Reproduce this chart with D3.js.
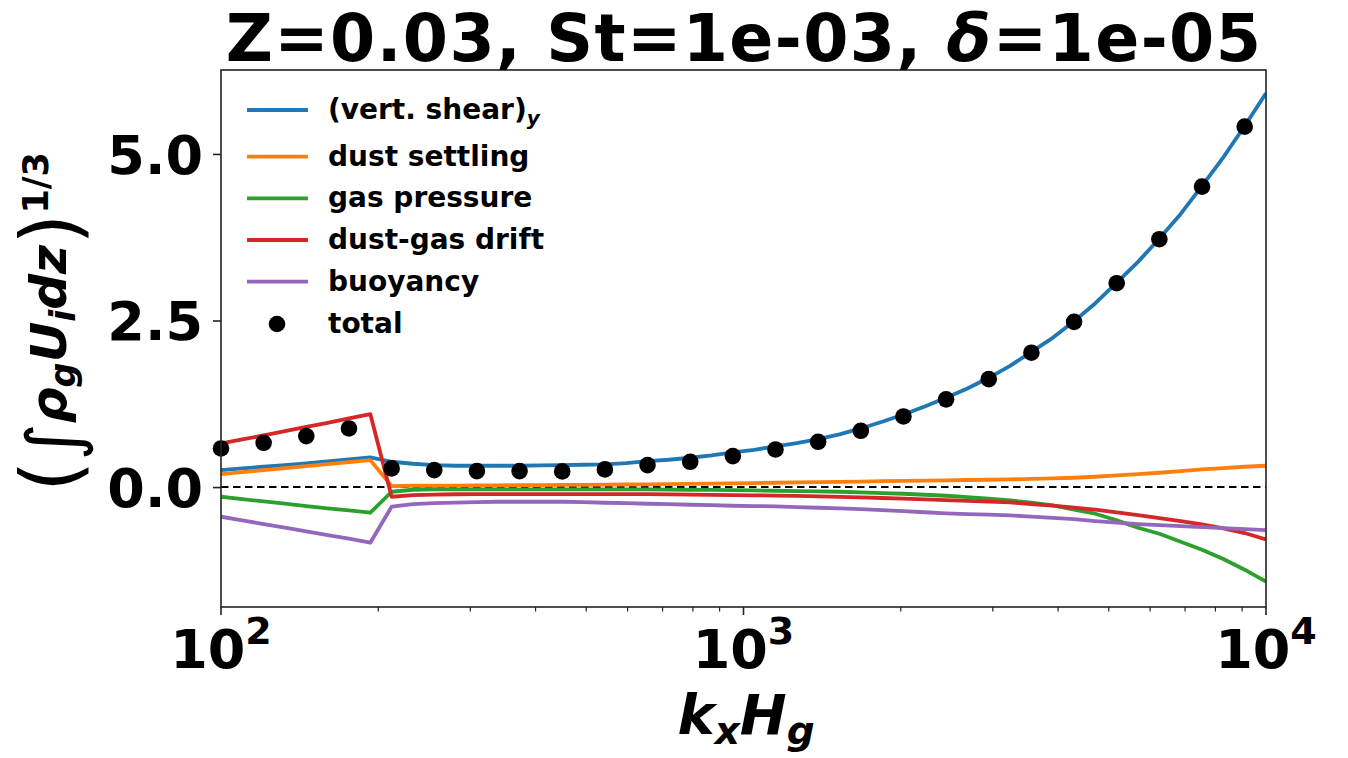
<!DOCTYPE html>
<html>
<head>
<meta charset="utf-8">
<script src="https://cdn.jsdelivr.net/npm/d3@7"></script>
<style>
  html, body { margin: 0; padding: 0; background: #fff; }
  svg { display: block; font-family: "DejaVu Sans", sans-serif; }
</style>
</head>
<body>
<svg id="chart" width="1348" height="758"></svg>
<script>
// x grid: k_x H_g (50 log-spaced samples, 1e2 .. 1e4)
const kx = [100, 109.85, 120.67, 132.57, 145.63, 159.98, 175.75, 193.07, 212.10, 232.99,
  255.95, 281.17, 308.88, 339.32, 372.76, 409.49, 449.84, 494.17, 542.87, 596.36,
  655.13, 719.69, 790.60, 868.51, 954.11, 1048.11, 1151.40, 1264.86, 1389.50, 1526.42,
  1676.83, 1842.07, 2023.59, 2222.99, 2442.05, 2682.70, 2947.05, 3237.46, 3556.48, 3906.94,
  4291.93, 4714.87, 5179.47, 5689.87, 6250.55, 6866.49, 7543.12, 8286.43, 9102.98, 10000];

const vertShear = [0.255, 0.28, 0.305, 0.33, 0.355, 0.385, 0.415, 0.445, 0.38, 0.35,
  0.33, 0.32, 0.32, 0.32, 0.32, 0.325, 0.33, 0.335, 0.34, 0.36,
  0.39, 0.41, 0.44, 0.475, 0.52, 0.56, 0.61, 0.66, 0.72, 0.79,
  0.88, 0.98, 1.09, 1.21, 1.34, 1.48, 1.64, 1.82, 2.03, 2.24,
  2.49, 2.76, 3.07, 3.38, 3.73, 4.10, 4.52, 4.95, 5.42, 5.91];

const dustSettling = [0.195, 0.225, 0.255, 0.285, 0.315, 0.345, 0.375, 0.405, 0.015, 0.02,
  0.02, 0.022, 0.024, 0.026, 0.028, 0.03, 0.032, 0.034, 0.036, 0.039,
  0.042, 0.045, 0.048, 0.052, 0.056, 0.06, 0.065, 0.07, 0.074, 0.079,
  0.083, 0.088, 0.092, 0.097, 0.101, 0.106, 0.11, 0.115, 0.122, 0.13,
  0.14, 0.155, 0.175, 0.195, 0.215, 0.24, 0.265, 0.285, 0.305, 0.32];

const gasPressure = [-0.145, -0.18, -0.215, -0.25, -0.285, -0.32, -0.35, -0.385, -0.07, -0.04,
  -0.035, -0.035, -0.035, -0.035, -0.035, -0.035, -0.035, -0.035, -0.035, -0.035,
  -0.035, -0.037, -0.04, -0.043, -0.047, -0.051, -0.055, -0.06, -0.065, -0.07,
  -0.08, -0.09, -0.10, -0.115, -0.13, -0.15, -0.175, -0.20, -0.235, -0.275,
  -0.34, -0.40, -0.50, -0.61, -0.70, -0.82, -0.94, -1.08, -1.24, -1.42];

const dustGasDrift = [0.655, 0.715, 0.775, 0.84, 0.905, 0.965, 1.03, 1.096, -0.145, -0.12,
  -0.112, -0.108, -0.105, -0.105, -0.105, -0.105, -0.105, -0.105, -0.105, -0.105,
  -0.107, -0.11, -0.113, -0.116, -0.12, -0.124, -0.128, -0.133, -0.14, -0.147,
  -0.155, -0.164, -0.174, -0.185, -0.196, -0.207, -0.218, -0.23, -0.255, -0.28,
  -0.31, -0.34, -0.38, -0.42, -0.465, -0.51, -0.56, -0.62, -0.69, -0.785];

const buoyancy = [-0.445, -0.5, -0.555, -0.61, -0.665, -0.72, -0.775, -0.835, -0.295, -0.255,
  -0.24, -0.232, -0.225, -0.22, -0.22, -0.22, -0.22, -0.225, -0.235, -0.242,
  -0.25, -0.257, -0.265, -0.272, -0.28, -0.285, -0.29, -0.30, -0.31, -0.32,
  -0.33, -0.345, -0.36, -0.378, -0.395, -0.405, -0.415, -0.425, -0.445, -0.462,
  -0.48, -0.51, -0.535, -0.555, -0.57, -0.585, -0.60, -0.615, -0.63, -0.645];

// total, shown at every second sample
const total = [0.58, 0.665, 0.765, 0.88, 0.28, 0.255, 0.24, 0.24, 0.235, 0.265,
  0.33, 0.38, 0.465, 0.565, 0.68, 0.845, 1.06, 1.317, 1.62, 2.017,
  2.48, 3.06, 3.72, 4.51, 5.41];

const seriesNames = ["(vert. shear)", "dust settling", "gas pressure", "dust-gas drift", "buoyancy", "total"];
const seriesColors = ["#1f77b4", "#ff7f0e", "#2ca02c", "#d62728", "#9467bd", "#000000"];
const yTicks = [0, 2.5, 5.0];
const yTickLabels = ["0.0", "2.5", "5.0"];
const xMajorTicks = [100, 1000, 10000];
const xTickExps = ["2", "3", "4"];
const xMinorTicks = [200, 300, 400, 500, 600, 700, 800, 900, 2000, 3000, 4000, 5000, 6000, 7000, 8000, 9000];

const svg = d3.select("#chart");
const L = 221, R = 1266, T = 70, B = 607;

const x = d3.scaleLog().domain([100, 10000]).range([L, R]);
const y = d3.scaleLinear().domain([-1.80, 6.26]).range([B, T]);

svg.append("defs").append("clipPath").attr("id", "clip")
  .append("rect").attr("x", L).attr("y", T).attr("width", R - L).attr("height", B - T);

const plot = svg.append("g").attr("clip-path", "url(#clip)");

// zero dashed line
plot.append("line")
  .attr("x1", L).attr("x2", R).attr("y1", y(0)).attr("y2", y(0))
  .attr("stroke", "#000").attr("stroke-width", 2).attr("stroke-dasharray", "7.5,4.5");

const lineGen = d3.line().x((d, i) => x(kx[i])).y(d => y(d));
const lineSeries = [vertShear, dustSettling, gasPressure, dustGasDrift, buoyancy];
lineSeries.forEach((s, k) => {
  plot.append("path").datum(s)
    .attr("d", lineGen)
    .attr("fill", "none")
    .attr("stroke", seriesColors[k])
    .attr("stroke-width", 3.8)
    .attr("stroke-linejoin", "round");
});

const kxEven = kx.filter((d, i) => i % 2 === 0);
svg.append("g").selectAll("circle").data(total).join("circle")
  .attr("cx", (d, i) => x(kxEven[i]))
  .attr("cy", d => y(d))
  .attr("r", 8.3)
  .attr("fill", "#000");

// frame
svg.append("rect").attr("x", L).attr("y", T).attr("width", R - L).attr("height", B - T)
  .attr("fill", "none").attr("stroke", "#222").attr("stroke-width", 1.6);

// y axis
const yAxis = d3.axisLeft(y).tickValues(yTicks).tickSize(8).tickFormat((d, i) => yTickLabels[i]).tickPadding(10);
const gy = svg.append("g").attr("transform", `translate(${L},0)`).call(yAxis);
gy.select(".domain").remove();
gy.selectAll(".tick line").attr("stroke", "#222").attr("stroke-width", 1.6);
gy.selectAll(".tick text").attr("font-size", 54).attr("font-weight", "bold")
  .attr("font-family", "DejaVu Sans").attr("fill", "#000").attr("dy", "0.36em");

// x axis ticks
const gx = svg.append("g").attr("transform", `translate(0,${B})`);
gx.selectAll("line.minor").data(xMinorTicks).join("line").attr("class", "minor")
  .attr("x1", d => x(d)).attr("x2", d => x(d)).attr("y1", 0).attr("y2", 4.5)
  .attr("stroke", "#222").attr("stroke-width", 1.2);
gx.selectAll("line.major").data(xMajorTicks).join("line").attr("class", "major")
  .attr("x1", d => x(d)).attr("x2", d => x(d)).attr("y1", 0).attr("y2", 8)
  .attr("stroke", "#222").attr("stroke-width", 1.6);
const xl = gx.selectAll("text.xl").data(xMajorTicks).join("text").attr("class", "xl")
  .attr("x", d => x(d)).attr("y", 61)
  .attr("text-anchor", "middle")
  .attr("font-weight", "bold").attr("font-family", "DejaVu Sans");
xl.append("tspan").attr("font-size", 54).text("10");
xl.append("tspan").attr("font-size", 38).attr("dy", -24).text((d, i) => xTickExps[i]);

// title
const title = svg.append("text").attr("x", 744).attr("y", 61).attr("text-anchor", "middle")
  .attr("font-size", 65).attr("letter-spacing", 1.4).attr("font-weight", "bold").attr("font-family", "DejaVu Sans");
title.append("tspan").text("Z=0.03, St=1e-03, ");
title.append("tspan").attr("font-style", "italic").text("δ");
title.append("tspan").text("=1e-05");

// x label
const xlab = svg.append("text").attr("x", 746).attr("y", 734).attr("text-anchor", "middle")
  .attr("font-weight", "bold").attr("font-style", "italic").attr("font-family", "DejaVu Sans");
xlab.append("tspan").attr("font-size", 56).text("k");
xlab.append("tspan").attr("font-size", 39).attr("dy", 10).text("x");
xlab.append("tspan").attr("font-size", 56).attr("dy", -10).text("H");
xlab.append("tspan").attr("font-size", 39).attr("dy", 10).text("g");

// y label
const ylab = svg.append("text").attr("transform", "translate(66,322) rotate(-90)")
  .attr("text-anchor", "middle").attr("font-family", "DejaVu Sans").attr("font-weight", "bold");
ylab.append("tspan").attr("font-size", 80).attr("font-weight", "normal").attr("dy", 12).text("(");
ylab.append("tspan").attr("font-size", 72).attr("font-weight", "normal").attr("dy", 0).text("∫");
ylab.append("tspan").attr("font-size", 50).attr("font-style", "italic").attr("dy", -12).text("ρ");
ylab.append("tspan").attr("font-size", 35).attr("font-style", "italic").attr("dy", 9).text("g");
ylab.append("tspan").attr("font-size", 50).attr("font-style", "italic").attr("dy", -9).text("U");
ylab.append("tspan").attr("font-size", 35).attr("font-style", "italic").attr("dy", 9).text("i");
ylab.append("tspan").attr("font-size", 50).attr("font-style", "italic").attr("dy", -9).text("dz");
ylab.append("tspan").attr("font-size", 80).attr("font-weight", "normal").attr("dy", 12).text(")");
ylab.append("tspan").attr("font-size", 35).attr("dy", -30).text("1/3");

// legend
const legY = [110, 156.7, 198.3, 240, 281.7, 324];
const leg = svg.append("g");
seriesNames.forEach((name, k) => {
  if (k < 5) {
    leg.append("line").attr("x1", 247).attr("x2", 308).attr("y1", legY[k]).attr("y2", legY[k])
      .attr("stroke", seriesColors[k]).attr("stroke-width", 3.8);
  } else {
    leg.append("circle").attr("cx", 277).attr("cy", legY[k]).attr("r", 8.3).attr("fill", "#000");
  }
  const t = leg.append("text").attr("x", 328).attr("y", legY[k] + 9)
    .attr("font-size", 28).attr("font-weight", "bold").attr("font-family", "DejaVu Sans").text(name);
  if (k === 0) {
    t.append("tspan").attr("font-size", 20).attr("font-style", "italic").attr("dy", 6).text("y");
  }
});
</script>
</body>
</html>
